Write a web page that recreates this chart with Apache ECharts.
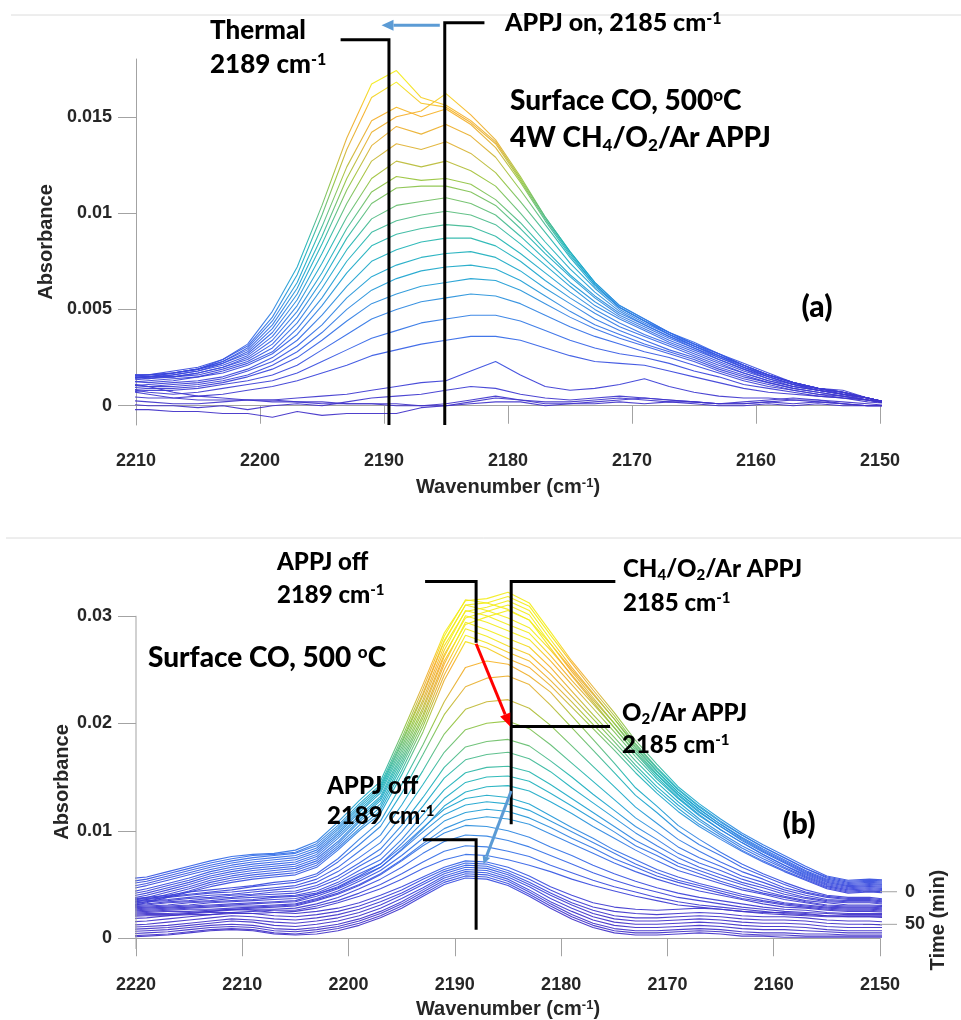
<!DOCTYPE html>
<html>
<head>
<meta charset="utf-8">
<script src="https://cdn.jsdelivr.net/npm/echarts@6/dist/echarts.min.js"></script>
<style>html,body{margin:0;padding:0;background:#fff}#c{width:961px;height:1020px}</style>
</head>
<body>
<div id="c"></div>
<script>
// absorbance values below are given in units of 1e-4
const UNIT = 1e-4;

// ---------- panel (a) ----------
const WN_A = [2211,2209,2207,2205,2203,2201,2199,2197,2195,2193,2191,2189,2187,2185,2183,2181,2179,2177,2175,2173,2171,2169,2167,2165,2163,2161,2159,2157,2155,2153,2151,2149];
const SPECTRA_A = [
 [-2,-2,-3,-3,-4,-4,-6,-3,-5,-4,-4,-4,-1,0,1,2,2,0,1,1,2,1,2,1,0,0,1,0,1,0,0,0],
 [1,0,0,-1,0,-2,0,1,0,2,4,5,6,8,10,9,6,4,3,4,5,4,3,2,1,1,2,1,2,1,0,0],
 [8,6,4,3,3,3,2,2,1,1,1,1,0,0,2,4,3,2,2,3,4,3,2,2,1,1,2,3,2,1,0,0],
 [12,10,7,5,4,3,3,2,2,1,1,0,0,1,3,5,3,1,1,2,3,4,3,2,1,2,3,4,3,1,0,0],
 [3,2,1,1,2,3,3,4,5,6,8,10,12,13,18,23,16,10,8,9,11,14,10,7,5,4,4,3,3,2,1,0],
 [5,4,4,5,6,8,10,13,17,21,26,29,32,34,36,36,34,30,26,23,22,21,18,15,12,9,7,6,5,4,2,1],
 [9,7,6,7,9,11,13,17,23,29,35,39,43,45,47,47,44,39,34,30,27,25,22,18,15,11,9,7,5,4,3,1],
 [7,8,8,9,11,13,16,21,29,37,45,50,54,56,58,57,53,47,41,36,32,28,25,21,17,13,10,8,6,4,3,1],
 [8,9,9,10,12,15,19,25,34,44,53,58,62,64,66,65,60,53,46,40,35,31,27,23,18,14,11,8,6,5,3,1],
 [11,10,10,11,13,16,21,28,38,50,60,66,70,72,73,71,65,57,49,42,37,32,28,24,19,15,12,9,7,5,3,1],
 [9,10,11,12,14,18,23,31,42,56,67,73,77,79,80,77,70,61,53,45,39,34,29,25,20,16,12,9,7,5,3,1],
 [10,11,12,13,15,19,25,34,47,62,75,81,85,87,87,83,75,65,56,48,41,36,31,26,21,17,13,10,8,6,3,1],
 [13,12,13,15,17,21,27,37,52,69,83,89,92,94,93,88,79,69,59,50,43,37,32,27,22,17,13,10,8,6,4,1],
 [12,13,14,15,18,22,28,40,56,75,90,96,99,101,99,94,84,73,62,52,45,39,33,28,23,18,14,10,8,6,4,1],
 [14,15,15,16,19,23,30,43,61,81,97,104,106,108,105,99,88,76,64,54,46,40,34,29,24,19,14,11,8,6,4,1],
 [16,15,15,17,20,24,32,46,65,87,105,113,114,114,111,104,92,79,67,56,47,41,35,30,24,19,15,11,8,6,4,1],
 [13,14,15,17,20,25,34,49,69,92,111,119,117,118,115,107,95,81,68,57,48,42,36,30,25,20,15,11,9,6,4,1],
 [15,14,16,18,21,26,36,52,74,98,118,127,124,127,122,114,100,85,71,59,49,42,36,31,25,20,15,11,9,7,4,1],
 [14,15,16,18,22,27,38,55,79,105,127,136,133,137,131,121,106,90,74,61,50,43,37,31,26,20,16,12,9,7,4,1],
 [15,15,17,19,22,28,40,58,84,112,135,145,141,146,140,129,112,94,77,62,51,44,37,31,26,21,16,12,9,7,4,1],
 [16,16,17,19,23,30,44,64,93,124,148,155,150,154,146,134,116,96,78,63,51,44,37,32,26,21,16,12,9,7,4,1],
 [14,15,17,19,23,29,42,61,88,118,142,150,153,162,151,138,119,98,80,64,52,45,38,32,27,21,16,12,9,7,4,1],
 [15,16,18,20,24,31,46,68,99,133,160,168,157,155,147,136,117,97,79,63,51,44,38,32,27,21,16,12,9,7,4,1],
 [16,16,17,19,24,32,49,72,104,139,167,174,160,156,148,137,118,98,80,64,52,45,38,33,27,22,17,12,9,8,4,1]
];
const Y_TICKS_A = [0, 0.005, 0.01, 0.015];

// ---------- panel (b) ----------
const WN_B = [2221,2219,2217,2215,2213,2211,2209,2207,2205,2203,2201,2199,2197,2195,2193,2191,2189,2187,2185,2183,2181,2179,2177,2175,2173,2171,2169,2167,2165,2163,2161,2159,2157,2155,2153,2151,2149];
const SPECTRA_B = [
 // final APPJ-off spectra (lower cluster)
 [1,2,3,5,7,8,7,4,3,4,7,12,19,28,39,50,56,55,49,39,28,18,10,5,3,3,4,5,4,2,2,1,1,1,1,1,1],
 [2,3,4,6,8,9,8,5,4,6,9,14,21,30,41,52,58,57,51,41,30,20,12,7,5,5,6,7,6,4,3,3,2,2,2,2,2],
 [4,5,6,8,10,11,10,7,6,8,11,16,23,32,43,54,60,59,53,43,32,22,14,9,7,7,8,9,8,6,5,5,4,4,3,3,3],
 [6,7,8,10,12,13,12,9,8,10,13,18,25,34,45,56,62,61,55,45,34,25,17,12,10,10,11,12,11,9,8,8,7,6,5,5,5],
 [8,9,10,12,14,16,15,12,11,13,16,21,28,37,47,58,64,63,57,48,37,28,20,15,13,13,14,15,14,12,11,11,10,8,7,7,7],
 [10,11,12,14,16,18,17,15,14,16,19,24,31,40,50,60,66,65,59,50,40,31,23,18,16,16,17,18,17,15,14,14,13,11,10,10,10],
 [12,13,15,17,19,21,20,18,17,19,22,27,34,42,52,62,68,67,61,52,42,33,26,21,19,19,20,21,20,18,17,17,16,14,13,13,12],
 [15,16,18,20,22,24,23,21,20,22,25,30,37,45,55,64,70,69,63,55,45,36,29,25,23,22,23,24,23,21,20,20,19,17,16,16,15],
 [18,19,21,23,25,27,26,24,23,25,28,33,40,48,57,66,72,71,66,58,48,40,33,29,27,26,27,28,27,25,24,24,23,21,20,20,19],
 // decay spectra
 [20,21,21,22,22,23,23,24,25,28,33,39,46,55,65,73,78,77,73,68,62,55,49,44,39,35,31,29,27,25,23,22,21,20,20,20,20],
 [21,22,22,23,24,24,25,26,26,30,35,42,50,60,71,81,86,85,81,76,68,61,54,48,43,38,34,31,29,27,25,23,22,21,21,21,21],
 [22,23,23,24,25,26,27,27,28,32,38,46,55,66,79,90,96,95,91,85,77,69,61,54,48,43,38,35,32,29,27,25,24,23,22,22,22],
 [23,24,25,25,26,27,28,29,30,35,41,49,59,72,86,98,105,104,100,94,85,77,68,60,53,47,42,38,35,32,29,27,26,24,23,23,23],
 [24,25,26,27,27,28,29,30,31,36,42,50,60,73,88,102,110,113,111,106,97,88,79,70,62,55,49,44,40,36,32,29,28,26,25,25,24],
 [25,26,27,28,29,30,30,31,32,37,44,53,63,77,93,109,117,120,118,112,103,93,84,74,66,58,52,47,42,37,34,31,29,27,26,26,25],
 [26,27,28,29,30,31,32,33,34,39,46,55,66,82,99,115,124,127,125,119,109,99,89,79,69,61,54,49,44,39,35,32,30,28,27,27,26],
 [27,28,29,30,31,32,33,34,35,41,48,58,69,85,103,120,130,133,131,125,114,103,93,82,73,64,57,51,46,41,37,33,31,29,28,28,27],
 // O2/Ar APPJ spectra
 [28,29,30,31,33,34,35,36,37,41,47,57,66,83,102,123,136,141,142,137,127,116,104,93,82,72,63,57,51,45,41,36,33,30,29,29,28],
 [29,30,31,33,34,35,36,38,39,42,50,60,69,88,108,130,145,150,151,146,135,123,111,99,86,77,67,60,53,47,42,38,34,31,30,30,29],
 [30,31,33,34,35,37,38,39,40,44,52,63,73,92,115,138,154,159,160,155,143,130,117,104,91,81,70,63,56,50,44,39,35,33,31,31,30],
 [31,32,34,35,37,38,40,41,42,47,55,67,78,99,123,149,166,171,173,167,155,140,126,112,98,86,75,66,59,52,47,41,37,34,33,33,31],
 [32,34,35,37,38,40,41,43,44,49,58,70,83,105,131,159,178,183,185,179,165,150,134,119,104,92,79,70,63,55,49,43,38,35,34,34,32],
 [33,35,36,38,40,41,43,45,47,52,62,75,89,114,143,173,194,200,202,195,180,163,146,129,112,99,85,75,67,58,52,45,40,36,35,35,33],
 [34,36,38,40,42,43,45,47,49,55,66,81,96,124,156,190,213,220,222,214,198,179,160,141,122,107,92,81,71,62,55,47,42,38,36,36,34],
 [35,37,39,41,43,45,48,50,52,58,71,87,104,135,171,208,234,242,244,236,217,196,175,154,133,117,100,87,77,66,58,50,43,39,37,37,35],
 [36,38,40,43,45,47,49,52,54,60,74,92,109,143,180,220,252,258,255,244,229,207,185,163,140,123,105,92,80,69,60,52,45,40,38,38,36],
 // CH4/O2/Ar APPJ and first APPJ-off spectra (top cluster)
 [29,33,38,43,48,52,55,57,59,66,82,100,116,152,192,240,276,270,260,252,235,215,195,175,154,135,118,104,92,81,71,62,54,46,42,43,42],
 [30,34,39,44,50,54,57,59,61,68,84,102,119,156,197,245,282,275,266,258,240,220,199,179,158,138,121,106,94,82,72,63,55,47,43,44,43],
 [32,36,41,46,52,56,59,61,63,70,86,105,122,160,201,250,288,281,272,264,246,225,204,183,161,141,124,109,96,84,74,65,56,48,44,45,44],
 [34,38,43,48,54,58,61,63,65,72,88,108,125,163,205,255,294,287,279,271,252,230,208,187,165,145,127,111,98,86,76,66,57,49,45,46,45],
 [36,40,45,50,56,60,63,65,67,74,90,110,128,166,208,258,292,299,305,296,270,244,220,196,172,150,131,115,101,89,78,68,58,50,46,47,46],
 [38,42,47,52,58,62,65,67,69,76,93,112,130,169,212,262,300,294,286,278,258,236,214,192,169,148,130,114,101,89,78,68,59,51,47,48,47],
 [40,44,49,54,60,64,67,69,71,78,95,114,132,172,215,264,298,304,310,301,274,248,224,200,175,153,134,118,104,91,80,70,60,52,48,49,48],
 [42,46,51,56,62,66,69,71,73,80,97,117,135,175,219,268,305,300,292,284,263,240,218,196,173,152,133,117,104,92,81,71,61,53,49,50,49],
 [45,49,54,59,64,68,71,73,75,82,99,119,137,178,222,272,304,308,314,305,278,252,228,204,178,156,136,120,106,93,82,72,62,54,50,51,50],
 [47,51,56,61,66,70,73,75,77,84,101,121,139,181,226,276,310,305,298,289,268,245,222,200,177,155,136,120,106,94,83,73,63,55,51,52,51],
 [50,53,58,63,68,72,75,77,79,86,103,123,141,183,228,277,310,312,318,309,282,256,231,207,181,159,139,123,109,96,85,75,65,56,52,53,52],
 [52,55,60,65,70,74,77,78,80,88,105,125,143,186,232,281,315,312,306,296,274,250,227,204,180,158,138,122,108,96,85,75,65,57,53,54,53],
 [55,57,62,67,72,76,78,79,82,90,108,128,146,190,236,284,314,316,322,312,285,258,234,210,184,162,141,125,111,98,87,77,67,58,54,55,54]
];
const Y_TICKS_B = [0, 0.01, 0.02, 0.03];
const TIME_TICKS = [0, 50];

// annotation texts (rich text)
const TXT_A = {
  thermal: '{n|Thermal}', thermalWn: '{n|2189 cm}{sup|-1}',
  appjOn: '{n|APPJ on, 2185 cm}{sup|-1}',
  title1: '{n|Surface CO, 500}{sup|o}{n|C}',
  title2: '{n|4W CH}{sub|4}{n|/O}{sub|2}{n|/Ar APPJ}',
  tag: '{n|(a)}'
};
const TXT_B = {
  off1: '{n|APPJ off}', off1Wn: '{n|2189 cm}{sup|-1}',
  ch4: '{n|CH}{sub|4}{n|/O}{sub|2}{n|/Ar APPJ}', ch4Wn: '{n|2185 cm}{sup|-1}',
  o2: '{n|O}{sub|2}{n|/Ar APPJ}', o2Wn: '{n|2185 cm}{sup|-1}',
  title: '{n|Surface CO, 500 }{sup|o}{n|C}',
  off2: '{n|APPJ off}', off2Wn: '{n|2189 cm}{sup|-1}',
  tag: '{n|(b)}'
};

const COLORS = ['#4030c8','#3844dc','#3366e8','#2f86e2','#1aa3d0','#1fb5b5','#5bbd7a','#97c43a','#e0b132','#f6ae28','#f3ec18'];
const AX_COL = '#a3a3a3';
const AX_FONT = '"Liberation Sans", Arial, sans-serif';
const LBL = {fontFamily: AX_FONT, fontWeight: 'bold', fontSize: 18, color: '#262626'};
const NAME = {fontFamily: AX_FONT, fontWeight: 'bold', fontSize: 20, color: '#262626'};
const NAME_SUP = {rich: {s: {fontFamily: AX_FONT, fontWeight: 'bold', fontSize: 13, color: '#262626', verticalAlign: 'top'}}};
const fmt = v => (Math.abs(v) < 1e-12 ? '0' : String(parseFloat(v.toFixed(4))));
const fmtInt = v => String(Math.round(v));

function lineSeries(wn, s, gi) {
  return {
    type: 'line', xAxisIndex: gi, yAxisIndex: gi,
    data: s.map((v, i) => [wn[i], v * UNIT]),
    showSymbol: false, symbol: 'none', silent: true,
    lineStyle: {width: 1.1, opacity: 0.92},
    emphasis: {disabled: true}
  };
}
const seriesA = SPECTRA_A.map(s => lineSeries(WN_A, s, 0));
const seriesB = SPECTRA_B.map(s => lineSeries(WN_B, s, 1));
const idxA = seriesA.map((_, i) => i);
const idxB = seriesB.map((_, i) => i + seriesA.length);

const chart = echarts.init(document.getElementById('c'));
chart.setOption({
  animation: false,
  backgroundColor: '#fff',
  grid: [
    {left: 136, right: 81, top: 59, bottom: 595},
    {left: 136, right: 81, top: 578.2, bottom: 69.2},
    {left: 880, right: 64, top: 878.7, bottom: 58.5}
  ],
  xAxis: [
    {gridIndex: 0, type: 'value', min: 2150, max: 2210, interval: 10, inverse: true,
     axisLine: {lineStyle: {color: AX_COL}}, axisTick: {length: 18, lineStyle: {color: AX_COL}},
     axisLabel: Object.assign({margin: 27, formatter: fmtInt}, LBL), splitLine: {show: false},
     name: 'Wavenumber (cm{s|-1})', nameLocation: 'middle', nameGap: 52,
     nameTextStyle: Object.assign({}, NAME, NAME_SUP)},
    {gridIndex: 1, type: 'value', min: 2150, max: 2220, interval: 10, inverse: true,
     axisLine: {lineStyle: {color: AX_COL}}, axisTick: {length: 18, lineStyle: {color: AX_COL}},
     axisLabel: Object.assign({margin: 27, formatter: fmtInt}, LBL), splitLine: {show: false},
     name: 'Wavenumber (cm{s|-1})', nameLocation: 'middle', nameGap: 50,
     nameTextStyle: Object.assign({}, NAME, NAME_SUP)},
    {gridIndex: 2, type: 'value', show: false, min: 0, max: 1}
  ],
  yAxis: [
    {gridIndex: 0, type: 'value', min: -0.001, max: 0.018,
     axisLine: {show: true, lineStyle: {color: AX_COL}},
     axisTick: {show: true, length: 18, customValues: Y_TICKS_A, lineStyle: {color: AX_COL}},
     axisLabel: Object.assign({margin: 24, customValues: Y_TICKS_A, formatter: fmt}, LBL),
     splitLine: {show: false},
     name: 'Absorbance', nameLocation: 'middle', nameGap: 66, nameTextStyle: NAME},
    {gridIndex: 1, type: 'value', min: -0.001, max: 0.0335,
     axisLine: {show: false},
     axisTick: {show: true, length: 18, customValues: Y_TICKS_B, lineStyle: {color: AX_COL}},
     axisLabel: Object.assign({margin: 24, customValues: Y_TICKS_B, formatter: fmt}, LBL),
     splitLine: {show: false}},
    {gridIndex: 2, type: 'value', position: 'right', inverse: true, min: -20, max: 107,
     axisLine: {show: false},
     axisTick: {show: true, inside: true, length: 17, customValues: TIME_TICKS, lineStyle: {color: AX_COL}},
     axisLabel: Object.assign({margin: 8, customValues: TIME_TICKS, formatter: fmtInt}, LBL),
     splitLine: {show: false},
     name: 'Time (min)', nameLocation: 'middle', nameRotate: 90, nameGap: 28, nameTextStyle: NAME}
  ],
  visualMap: [
    {type: 'continuous', show: false, seriesIndex: idxA, dimension: 1, min: 0, max: 0.0168, inRange: {color: COLORS}},
    {type: 'continuous', show: false, seriesIndex: idxB, dimension: 1, min: 0.002, max: 0.028, inRange: {color: COLORS}}
  ],
  series: seriesA.concat(seriesB)
});

// ---------- annotations ----------
const g = [];
const P = (gi, x, y) => chart.convertToPixel({gridIndex: gi}, [x, y]);
function pline(pts, color, w, z) {
  g.push({type: 'polyline', silent: true, z: z || 50, shape: {points: pts}, style: {stroke: color, lineWidth: w, fill: null}});
}
function arrow(a, b, color, w, hl, hw) {
  const dx = b[0] - a[0], dy = b[1] - a[1], L = Math.hypot(dx, dy), ux = dx / L, uy = dy / L;
  const base = [b[0] - ux * hl, b[1] - uy * hl];
  pline([a, base], color, w, 52);
  g.push({type: 'polygon', silent: true, z: 53, shape: {points: [b, [base[0] - uy * hw / 2, base[1] + ux * hw / 2], [base[0] + uy * hw / 2, base[1] - ux * hw / 2]]}, style: {fill: color}});
}
const ANN_FONT = 'Lato, "Open Sans", sans-serif';
const ANN_W = 900;
function rich(size) {
  const s = Math.round(size * 0.62);
  return {
    n: {fontFamily: ANN_FONT, fontWeight: ANN_W, fontSize: size, fill: '#000'},
    sup: {fontFamily: ANN_FONT, fontWeight: ANN_W, fontSize: s, fill: '#000', verticalAlign: 'top'},
    sub: {fontFamily: ANN_FONT, fontWeight: ANN_W, fontSize: s, fill: '#000', verticalAlign: 'bottom', padding: [Math.round(size * 0.55), 0, 0, 0]}
  };
}
function txt(x, y, text, size, align) {
  g.push({type: 'text', x: x, y: y, z: 60, silent: true,
    style: {text: text, rich: rich(size), align: align || 'left', verticalAlign: 'middle',
            fontFamily: ANN_FONT, fontWeight: ANN_W, fontSize: size, fill: '#000'}});
}
function rtxt(x, y, text, size) {
  g.push({type: 'text', x: x, y: y, rotation: Math.PI / 2, z: 60, silent: true,
    style: {text: text, align: 'center', verticalAlign: 'middle', fontFamily: AX_FONT, fontWeight: 'bold', fontSize: size, fill: '#262626'}});
}

// page separators
pline([[11, 15], [961, 15]], '#dcdcdc', 1, 1);
pline([[6, 538], [961, 538]], '#dcdcdc', 1, 1);

// panel (a)
pline([P(0, 2193.5, 0.0190), P(0, 2189.6, 0.0190), P(0, 2189.6, -0.001)], '#000', 3);
pline([P(0, 2181.9, 0.01988), P(0, 2185.1, 0.01988), P(0, 2185.1, -0.001)], '#000', 3);
arrow(P(0, 2185.5, 0.01975), P(0, 2190.2, 0.01975), '#5b9bd5', 3, 12, 11);
txt(210, 31, TXT_A.thermal, 26);
txt(210, 65, TXT_A.thermalWn, 26);
txt(505, 23, TXT_A.appjOn, 25);
txt(510, 101, TXT_A.title1, 28);
txt(510, 138, TXT_A.title2, 28);
txt(817, 307, TXT_A.tag, 30, 'center');

// panel (b)
pline([P(1, 2220, 0.03), P(1, 2220, -0.001)], AX_COL, 1, 5);
pline([P(1, 2192.8, 0.0332), P(1, 2188.0, 0.0332), P(1, 2188.0, 0.0275)], '#000', 3);
arrow(P(1, 2188.0, 0.0274), P(1, 2184.8, 0.0197), '#ff0000', 3, 13, 11);
pline([P(1, 2174.9, 0.0332), P(1, 2184.7, 0.0332), P(1, 2184.7, 0.0106)], '#000', 3);
pline([P(1, 2184.7, 0.0197), P(1, 2175.4, 0.0197)], '#000', 3);
pline([P(1, 2193.0, 0.00917), P(1, 2188.0, 0.00917), P(1, 2188.0, 0.0008)], '#000', 3);
arrow(P(1, 2184.7, 0.0137), P(1, 2187.3, 0.0069), '#5b9bd5', 3, 8, 8);
// time-axis ticks (grid 2), placed through the time axis scale
TIME_TICKS.forEach(t => {
  const y = chart.convertToPixel({yAxisIndex: 2}, t);
  const x0 = chart.convertToPixel({xAxisIndex: 2}, 0);
  const x1 = chart.convertToPixel({xAxisIndex: 2}, 1);
  pline([[x0, y], [x1, y]], AX_COL, 1, 5);
});
txt(277, 562, TXT_B.off1, 24);
txt(277, 595, TXT_B.off1Wn, 24);
txt(623, 569, TXT_B.ch4, 24);
txt(623, 603, TXT_B.ch4Wn, 24);
txt(622, 713, TXT_B.o2, 24);
txt(622, 745, TXT_B.o2Wn, 24);
txt(148, 658, TXT_B.title, 28);
txt(327, 786, TXT_B.off2, 24);
txt(327, 816, TXT_B.off2Wn, 24);
txt(799, 824, TXT_B.tag, 30, 'center');
rtxt(62, 782, 'Absorbance', 20);

chart.setOption({graphic: g});
</script>
</body>
</html>
